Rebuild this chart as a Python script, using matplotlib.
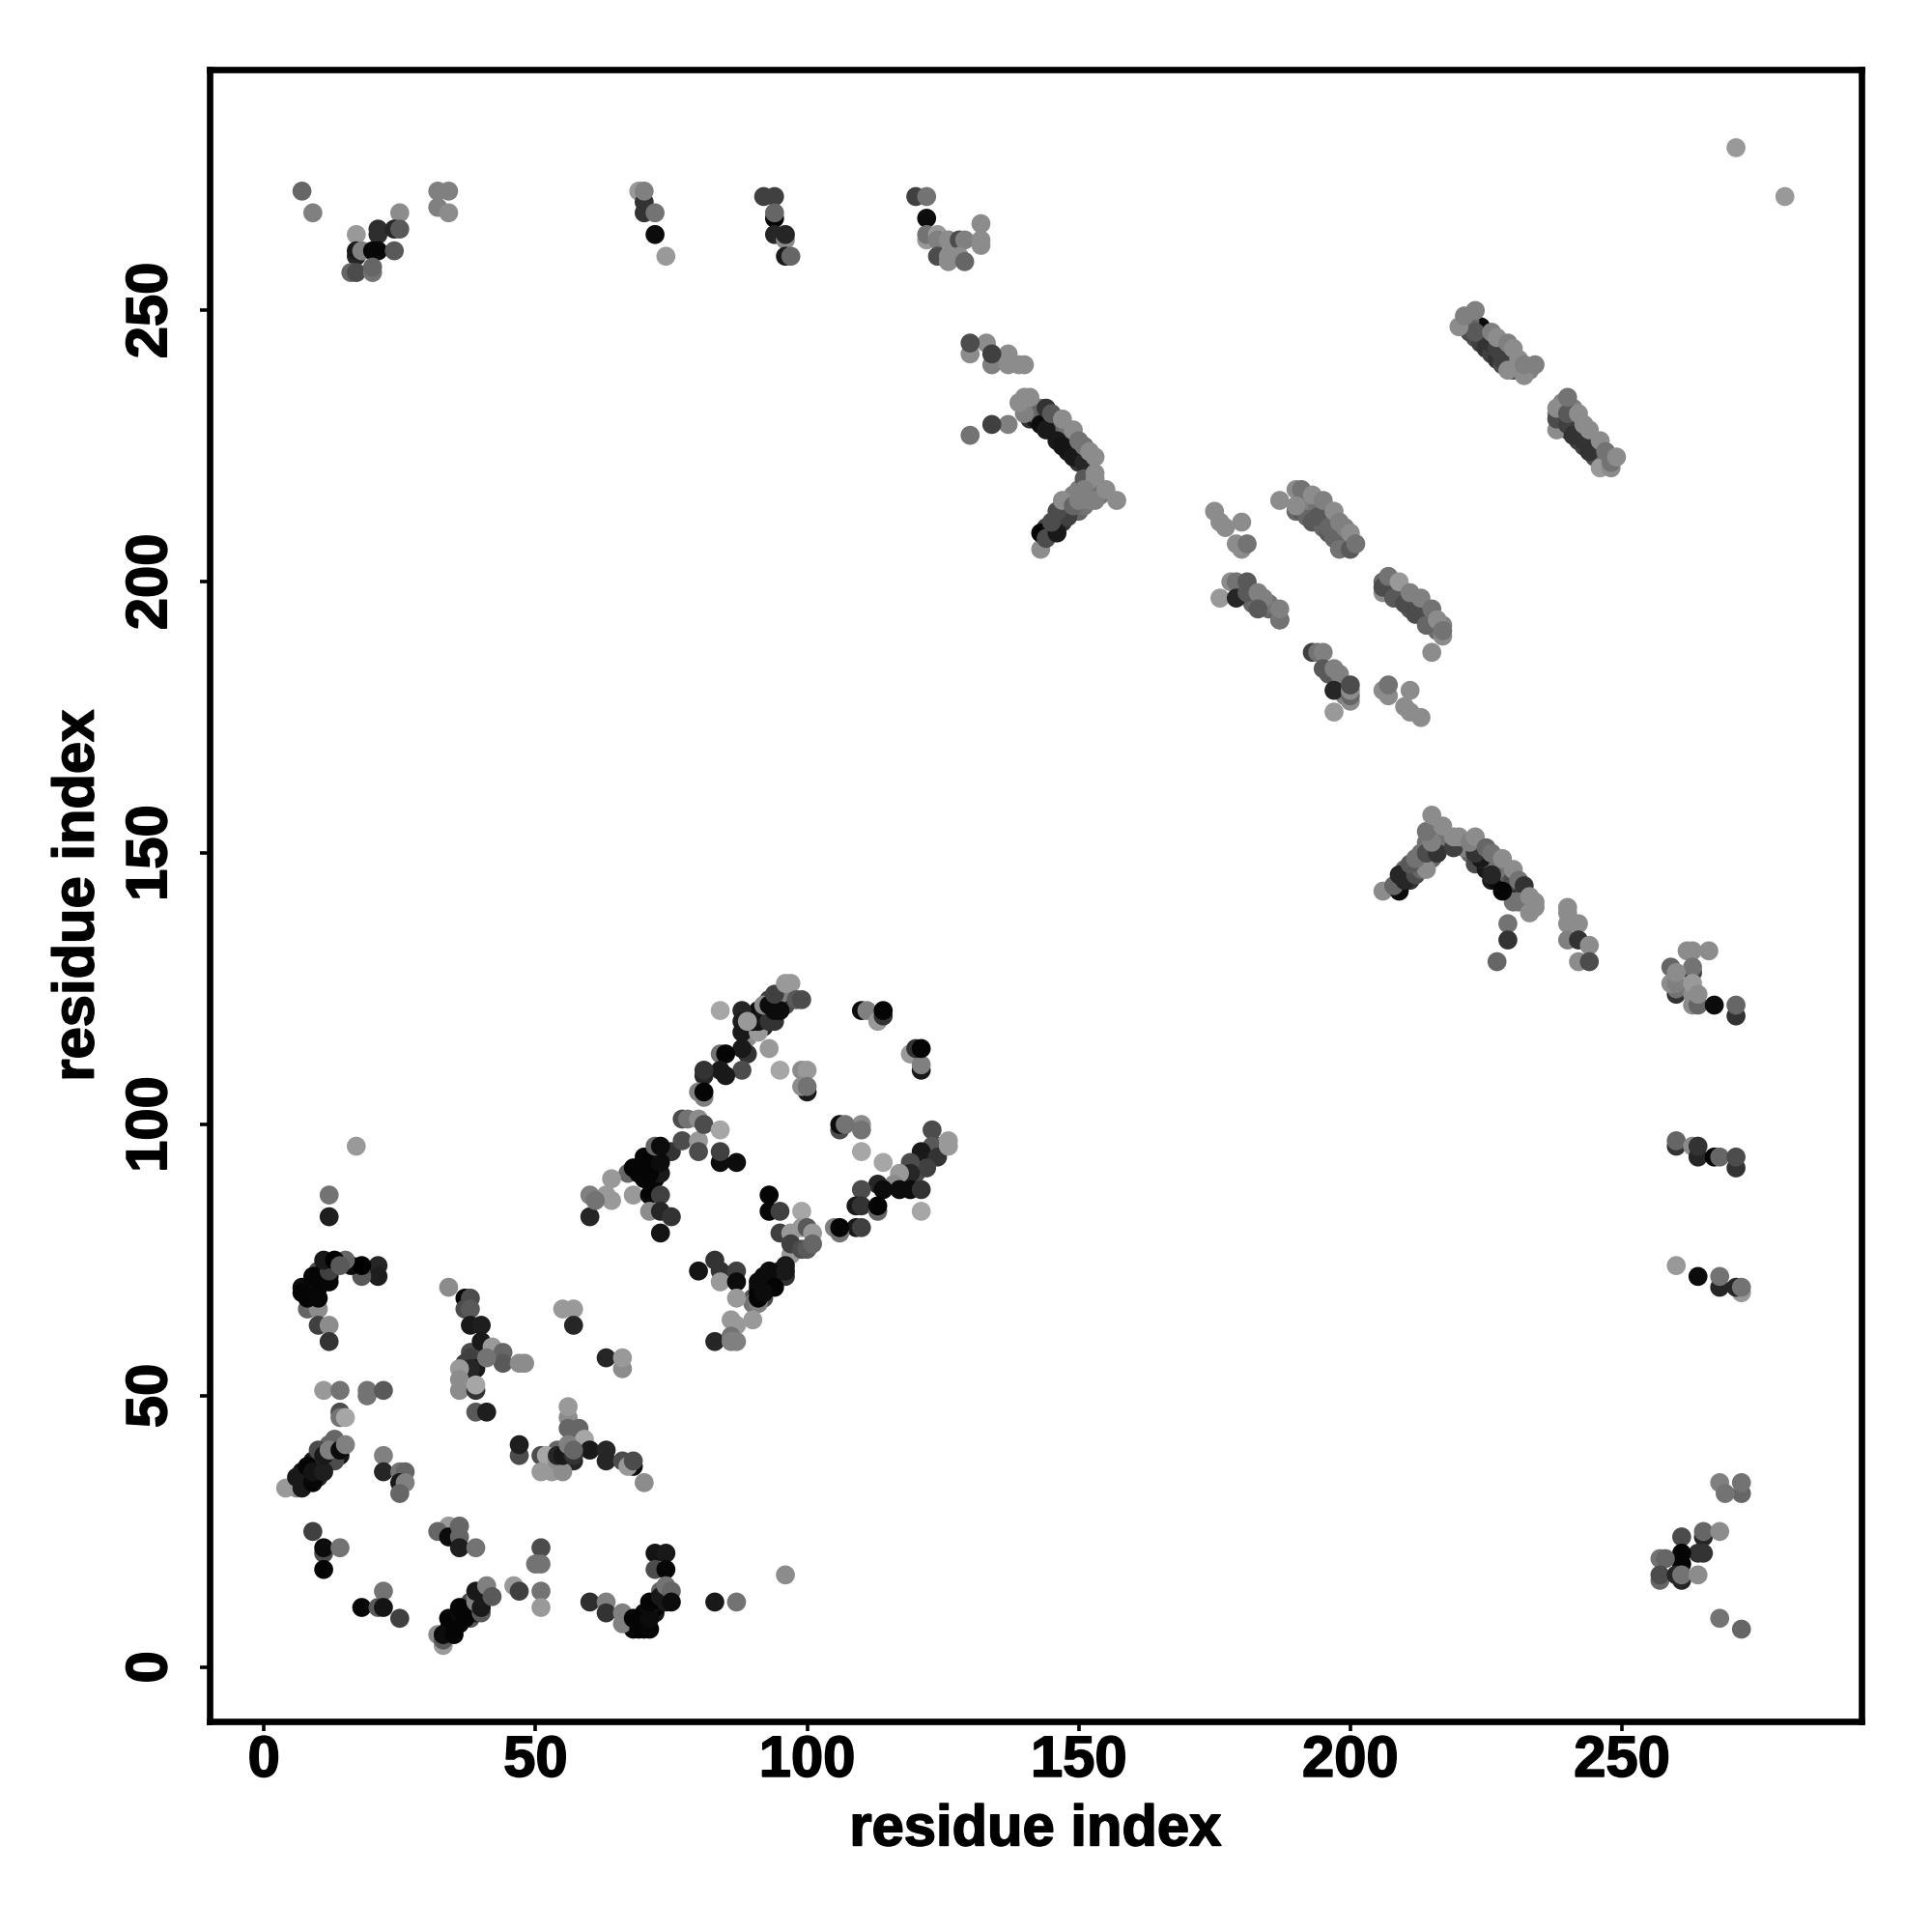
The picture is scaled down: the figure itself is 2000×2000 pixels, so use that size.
import numpy as np
import matplotlib
matplotlib.use("Agg")
import matplotlib.pyplot as plt
import matplotlib.patheffects as pe

# each contact is (residue x, residue y, grey level)
low_left = [
    (17,96,.6),(12,87,.45),(12,83,.12),(21,74,.15),(21,72,.12),(18,72,.35),(16,74,.05),(18,74,.0),(15,75,.4),
    (8,66,.4),(10,66,.55),(10,63,.25),(12,63,.55),(12,60,.2),
    (7,70,.05),(7,69,.02),(8,68,.02),(10,68,.03),(9,72,.02),(12,71,.03),(12,73,.25),(11,75,.1),(13,75,.0),(14,74,.35),
    (11,51,.6),(14,51,.45),(19,51,.45),(19,50,.45),(22,51,.35),(14,47,.3),(14,46,.45),(15,46,.65),
    (6,33,.55),(4,33,.6),(6,35,.1),(7,33,.1),(9,34,.03),(8,37,.02),(9,36,.08),(11,36,.12),(10,40,.3),(11,39,.1),
    (13,42,.4),(12,40,.5),(14,40,.05),(15,41,.5),
    (22,39,.5),(22,36,.15),(25,36,.45),(26,36,.4),(25,34,.1),(26,34,.5),(25,32,.4),
    (9,25,.25),(11,21,.3),(11,22,.05),(14,22,.45),(11,18,.02),(18,11,.03),(22,14,.45),(21,11,.35),(22,11,.08),(25,9,.25),
]
bottom_mid = [
    (33,4,.6),(32,6,.55),(33,5,.35),(33,6,.05),(35,6,.02),(34,9,.02),(36,10,.05),(37,10,.08),(36,11,.02),(37,9,.02),
    (40,10,.35),(39,12,.5),(40,11,.1),(39,14,.1),(41,15,.5),(42,13,.35),
    (46,15,.6),(47,14,.25),(51,14,.45),(51,11,.6),(51,22,.3),(50,19,.45),(51,19,.45),
    (34,26,.6),(32,25,.4),(34,24,.05),(36,26,.4),(36,24,.4),(36,22,.12),(39,22,.45),
    (60,12,.18),(63,12,.5),(63,10,.2),(66,10,.5),(66,8,.5),(68,9,.02),(69,7,.02),(71,7,.03),(71,9,.05),(71,12,.02),(73,13,.1),
    (72,21,.08),(74,21,.1),(72,18,.3),(74,18,.03),(74,15,.45),(75,14,.4),(75,12,.05),(83,12,.1),(87,12,.45),(96,17,.55),
]
mid_left = [
    (34,70,.55),(37,68,.02),(38,68,.3),(37,66,.3),(38,66,.35),(38,63,.1),(40,63,.12),(40,60,.1),(42,59,.6),
    (44,58,.4),(44,56,.35),(47,56,.55),(48,56,.55),(38,57,.25),(39,55,.1),(38,55,.15),(41,57,.45),(36,55,.6),(36,53,.55),
    (36,51,.55),(39,51,.2),(39,52,.65),(39,47,.35),(41,47,.12),
    (56,46,.55),(56,48,.6),(56,44,.4),(58,44,.4),(59,42,.65),(60,40,.1),(63,40,.15),(63,38,.15),(66,38,.3),(68,37,.05),(67,37,.6),(68,38,.3),(70,34,.55),
    (51,39,.3),(52,39,.65),(51,36,.6),(53,36,.6),(55,36,.55),(54,38,.55),(54,39,.15),(55,39,.1),(57,39,.2),(56,41,.5),(57,40,.4),
    (47,39,.3),(47,41,.12),(55,66,.6),(57,66,.6),(57,63,.15),(63,57,.15),(66,55,.55),(66,57,.6),
]
upper_block = [
    (84,121,.65),(88,121,.15),(88,119,.12),(89,116,.55),(88,117,.1),(91,117,.6),(90,119,.05),(91,119,.08),(89,119,.6),(93,119,.2),
    (92,122,.55),(93,122,.05),(94,121,.05),(95,121,.05),(94,124,.25),(96,126,.6),(97,126,.6),(98,123,.35),(99,123,.3),
    (89,113,.2),(88,114,.1),(84,113,.45),(85,113,.02),(93,114,.6),(88,110,.3),(85,109,.1),(84,110,.1),(81,109,.15),(81,110,.2),
    (81,105,.5),(80,106,.5),(81,106,.02),(95,110,.65),(99,110,.55),(100,110,.6),(100,106,.1),(99,107,.55),(100,107,.45),
    (110,121,.05),(111,121,.5),(113,119,.6),(114,120,.2),(114,121,.02),(119,113,.6),(121,110,.1),(121,111,.5),(120,114,.2),(121,114,.02),
    (77,97,.3),(77,101,.3),(78,101,.45),(80,97,.6),(80,101,.55),(81,100,.3),(84,99,.65),(80,95,.3),(84,93,.05),(84,95,.25),(87,93,.05),
    (67,91,.4),(69,91,.03),(68,92,.02),(71,91,.02),(70,94,.02),(73,93,.05),(72,96,.4),(73,96,.05),
    (64,90,.6),(63,87,.6),(64,86,.6),(68,87,.6),(71,87,.02),(73,87,.25),(71,84,.55),(73,84,.15),(75,83,.2),(73,80,.08),
    (60,83,.15),(60,87,.5),(61,86,.45),
]
right_block = [
    (123,99,.3),(125,96,.55),(123,96,.35),(121,95,.1),(124,94,.2),(122,92,.25),(119,93,.3),(119,91,.15),(117,91,.6),(116,89,.55),
    (126,97,.6),(126,96,.6),(113,89,.15),(114,88,.05),(117,88,.05),(119,88,.05),(121,88,.2),(121,84,.65),
    (110,88,.3),(109,85,.1),(110,85,.2),(113,84,.4),(113,85,.02),(109,81,.1),(110,81,.25),(105,81,.5),(106,80,.45),(106,81,.02),
    (110,95,.65),(114,93,.65),(110,100,.55),(110,99,.45),(106,99,.3),(106,100,.05),(107,100,.45),
    (99,84,.65),(93,87,.02),(93,84,.03),(95,84,.25),(95,80,.25),(97,80,.6),(99,81,.6),(100,81,.35),(101,80,.6),
    (97,76,.6),(97,78,.25),(99,77,.3),(100,77,.35),(101,78,.4),(96,74,.1),(93,71,.1),(91,71,.05),(93,73,.05),(96,73,.1),(94,70,.02),
    (90,67,.45),(91,67,.5),(91,68,.02),(92,69,.05),(83,75,.2),(80,73,.08),(84,73,.2),(87,73,.25),(84,71,.6),(87,71,.05),(87,68,.6),
    (90,64,.6),(86,64,.6),(87,63,.6),(83,60,.15),(86,61,.45),(86,60,.5),(87,60,.5),
]
top_row = [
    (7,272,.4),(9,268,.5),(25,268,.55),(17,264,.6),(21,264,.18),(21,265,.18),(24,265,.15),(25,265,.35),
    (17,260,.15),(17,261,.1),(18,261,.5),(20,261,.03),(21,261,.03),(24,261,.35),(16,257,.4),(17,257,.3),(20,257,.45),(20,258,.4),
    (32,272,.5),(34,272,.5),(32,269,.5),(34,268,.55),(69,272,.6),(70,270,.2),(70,272,.5),(70,268,.2),(72,268,.45),(72,264,.05),(74,260,.6),
    (92,271,.25),(94,271,.25),(94,267,.02),(94,268,.4),(94,264,.15),(96,263,.55),(96,264,.15),(96,260,.1),(97,260,.4),
    (120,271,.25),(122,271,.45),(122,267,.05),(122,263,.6),(122,264,.45),(124,264,.6),(124,263,.5),(126,263,.55),(128,263,.3),(129,263,.5),
    (124,260,.3),(126,259,.55),(126,260,.55),(128,260,.55),(129,259,.4),(132,266,.55),(132,262,.55),(132,263,.55),
    (271,280,.6),(280,271,.6),
]
hook_upper = [
    (130,242,.55),(133,244,.55),(130,244,.3),(134,240,.5),(137,240,.55),(137,242,.55),(134,242,.25),(139,240,.55),(140,240,.55),
    (137,229,.5),(134,229,.25),(130,227,.45),
    (143,229,.05),(144,228,.1),(146,226,.1),(147,225,.08),(149,223,.1),(151,222,.15),
    (140,231,.5),(139,233,.55),(140,234,.55),(141,234,.55),(144,232,.2),(145,231,.35),(147,230,.55),(149,228,.55),(150,226,.45),(151,225,.45),
    (152,224,.55),(153,223,.55),(151,219,.35),(153,220,.55),(153,219,.55),
    (143,206,.55),(143,209,.02),(144,208,.3),(146,209,.1),(145,211,.3),(148,212,.25),(146,213,.3),(147,215,.55),(149,214,.4),(150,215,.5),(151,217,.5),
    (154,216,.45),(153,215,.5),(155,217,.55),(157,215,.55),
]
mid_strands = [
    (175,213,.55),(176,211,.55),(180,211,.55),(177,210,.55),(179,207,.55),(180,206,.55),(181,207,.45),
    (194,212,.35),(196,210,.4),(197,208,.4),(198,206,.45),(200,206,.35),
    (187,215,.55),(190,217,.55),(191,217,.45),(190,214,.55),(193,216,.55),(195,215,.5),(197,213,.55),(198,211,.5),(199,210,.5),(200,209,.55),(201,207,.45),
    (178,200,.55),(179,200,.45),(176,197,.6),(179,197,.15),(181,200,.35),(181,198,.35),(183,198,.5),(184,197,.5),(183,195,.35),(187,193,.25),(187,193,.45),(187,195,.5),
    (206,198,.55),(206,199,.3),(208,197,.35),(210,196,.3),(212,194,.3),(214,192,.4),(207,201,.45),(209,200,.6),(211,198,.5),(213,197,.5),(215,195,.45),(216,193,.55),
    (217,190,.55),(217,191,.45),(215,187,.55),
    (193,187,.25),(194,187,.45),(195,187,.5),(195,184,.35),(197,184,.5),(198,183,.5),(197,180,.15),(200,178,.55),(200,179,.4),(200,180,.55),(200,181,.3),(197,176,.6),
    (206,180,.55),(207,179,.55),(207,181,.45),(211,180,.55),(210,177,.55),(211,176,.55),(213,175,.55),
]
top_strands = [
    (225,245,.2),(226,244,.2),(227,243,.25),(228,241,.25),(230,239,.3),(224,247,.05),(222,248,.4),(223,246,.35),
    (220,247,.55),(221,249,.5),(223,250,.5),(226,246,.5),(227,245,.55),(229,244,.5),(230,243,.55),(231,241,.55),(229,239,.55),(232,238,.55),(232,240,.5),(234,240,.5),
    (238,228,.55),(238,230,.3),(240,229,.25),(241,227,.2),(243,226,.2),(244,224,.2),(246,221,.6),(248,221,.55),(248,222,.45),
    (238,232,.55),(240,231,.35),(240,234,.45),(242,231,.55),(243,229,.55),(244,228,.55),(246,226,.55),(247,224,.45),(249,223,.55),
]
hook_lower = [
    (206,143,.55),(209,143,.05),(208,144,.4),(209,146,.15),(210,145,.15),(212,146,.3),(213,147,.4),(214,147,.55),(211,148,.35),(212,149,.45),(214,150,.3),
    (216,150,.2),(215,152,.5),(214,154,.45),(215,157,.55),(217,155,.55),(219,151,.25),(219,153,.55),(220,153,.55),
    (228,143,.02),(226,146,.15),(224,149,.1),(223,150,.2),(222,152,.5),(223,153,.55),(225,151,.4),(226,150,.45),(228,149,.55),(230,147,.55),(231,145,.45),
    (232,144,.2),(231,141,.45),(233,139,.55),(234,140,.55),(234,141,.55),(233,142,.55),
    (229,137,.45),(229,134,.2),(227,130,.4),(240,139,.55),(240,140,.55),(240,137,.55),(242,137,.55),(240,134,.5),(242,134,.2),(244,133,.55),(242,130,.55),(244,130,.3),
]
right_column = [
    (262,132,.55),(263,132,.55),(266,132,.55),(259,129,.4),(263,128,.25),(263,129,.45),(260,124,.2),(260,125,.45),(259,126,.55),(260,126,.5),(260,128,.55),
    (263,122,.55),(263,124,.55),(263,126,.6),(264,122,.4),(264,124,.55),(267,122,.05),(271,120,.2),(271,122,.4),
    (260,96,.2),(260,97,.4),(263,96,.55),(264,94,.15),(264,96,.2),(267,94,.02),(268,94,.4),(271,92,.2),(271,94,.3),
    (260,74,.6),(264,72,.05),(268,70,.15),(268,72,.45),(272,69,.6),(271,70,.15),(272,70,.45),
    (268,34,.5),(272,32,.4),(272,34,.45),(269,32,.45),(261,24,.3),(265,24,.15),(265,25,.4),(268,25,.55),(264,21,.2),(265,21,.2),(261,19,.02),(261,21,.02),
    (257,20,.45),(258,20,.4),(257,16,.4),(257,17,.3),(260,17,.15),(261,16,.15),(261,17,.45),(264,17,.55),(268,9,.45),(272,7,.4),
]

# contacts hidden inside the dense clusters, drawn first
dense_low = [
    (8,69,.03),(8,70,.0),(9,70,.02),(10,70,.02),(11,72,.05),(10,73,.3),(11,73,.05),(12,74,.02),(13,74,.1),(12,72,.05),(9,68,.02),(10,71,.02),
    (7,34,.1),(8,34,.05),(7,36,.08),(8,35,.05),(9,38,.1),(10,38,.1),(10,36,.2),(10,35,.15),(11,38,.2),(12,39,.1),(12,41,.4),(13,39,.3),(13,40,.08),(14,41,.4),(14,39,.1),(13,38,.3),
    (34,7,.05),(35,8,.02),(36,9,.02),(35,7,.1),(34,6,.4),(36,8,.03),(38,11,.02),(37,11,.05),(38,12,.3),(38,9,.35),(39,11,.05),(39,10,.1),(40,13,.15),(40,12,.08),(41,13,.4),(39,13,.5),
    (67,8,.4),(68,7,.02),(70,8,.02),(70,7,.05),(69,9,.02),(70,10,.05),(72,10,.1),(72,11,.02),(72,12,.15),(73,12,.05),(74,12,.1),(73,14,.4),(74,13,.3),(74,14,.45),
    (54,37,.2),(55,38,.2),(56,38,.15),(56,39,.3),(57,38,.15),(55,40,.4),(56,40,.35),(57,41,.5),(58,41,.55),(53,38,.5),(54,40,.4),
    (38,56,.25),(39,56,.2),(39,57,.1),(40,57,.15),(39,58,.2),(40,58,.35),(37,53,.6),(37,56,.25),(38,58,.3),
]
dense_block = [
    (70,92,.03),(71,93,.02),(72,94,.05),(72,92,.1),(73,95,.05),(73,94,.05),(74,95,.1),(75,95,.2),(70,90,.02),(71,90,.03),(72,90,.03),(73,91,.1),
    (90,120,.08),(91,121,.05),(92,120,.1),(92,118,.15),(93,120,.05),(94,119,.2),(95,122,.05),(95,123,.1),(93,123,.25),(97,123,.1),(96,122,.3),(96,124,.15),(95,124,.5),
    (119,90,.05),(120,92,.2),(121,92,.1),(122,93,.05),(122,94,.05),(123,95,.15),(118,90,.3),(119,89,.5),(124,96,.3),(120,91,.3),(118,89,.1),
    (92,72,.02),(92,70,.05),(91,70,.1),(92,71,.03),(93,70,.1),(94,72,.05),(95,72,.2),(96,72,.2),(95,73,.1),(92,68,.3),(90,68,.35),(91,69,.02),
]
dense_strands = [
    (222,246,.3),(223,245,.3),(224,244,.25),(225,243,.2),(226,242,.25),(227,241,.2),(228,240,.3),(229,240,.4),(230,241,.35),(224,246,.4),(225,246,.45),(226,245,.4),(228,243,.4),(229,242,.35),(231,240,.4),(233,239,.5),
    (239,230,.25),(240,228,.3),(241,229,.35),(242,226,.25),(243,225,.25),(244,225,.35),(245,223,.3),(246,222,.3),(247,222,.4),(242,229,.4),(244,226,.4),(245,225,.4),(246,224,.4),(239,233,.5),(241,232,.5),(238,231,.5),
    (141,230,.2),(142,230,.1),(145,228,.15),(146,227,.05),(148,225,.1),(148,224,.1),(150,223,.1),(150,222,.2),(152,222,.3),(145,229,.3),(147,227,.3),(148,227,.3),(149,226,.3),(150,224,.3),(151,224,.4),(146,229,.4),(148,228,.45),(152,221,.45),
    (141,233,.55),(142,232,.5),(143,232,.5),(142,231,.4),
    (144,209,.15),(145,209,.12),(146,210,.15),(147,211,.2),(148,213,.3),(149,213,.35),(150,213,.4),(151,214,.45),(152,216,.5),(152,218,.55),(152,215,.5),(149,216,.5),(150,217,.5),(145,210,.2),(144,210,.25),(147,214,.4),(148,214,.45),
    (209,144,.3),(210,146,.3),(211,146,.2),(212,147,.15),(213,149,.3),(214,148,.4),(215,149,.4),(216,151,.3),(215,153,.4),(211,145,.2),(210,147,.4),(213,150,.45),(212,148,.3),(216,153,.5),(216,152,.45),(215,151,.5),(214,152,.45),
    (222,150,.4),(223,148,.3),(225,147,.1),(226,145,.1),(227,145,.05),(228,144,.05),(229,143,.1),(230,142,.1),(231,142,.2),(224,149,.3),(225,149,.4),(227,148,.35),(228,147,.3),(229,146,.35),(230,145,.3),(232,142,.4),(230,141,.45),(222,151,.5),(221,151,.5),(224,151,.5),(225,150,.45),(227,147,.45),
    (190,213,.4),(191,213,.35),(192,212,.4),(193,211,.35),(195,210,.4),(196,209,.35),(197,209,.4),(198,208,.35),(199,207,.35),(192,215,.5),(194,214,.45),(196,212,.45),(198,210,.4),(199,208,.4),
    (207,198,.3),(208,198,.4),(209,197,.3),(210,197,.35),(211,195,.35),(213,195,.3),(214,193,.35),(215,193,.3),(216,191,.4),(209,199,.45),(211,197,.45),(213,196,.45),(215,192,.45),(217,192,.5),(206,200,.4),
    (182,198,.35),(182,196,.4),(184,196,.4),(185,195,.4),(180,199,.5),(185,196,.45),(183,196,.45),(196,183,.35),(198,182,.35),(199,181,.4),(199,180,.4),(199,179,.5),
]

groups = [dense_low, dense_block, dense_strands, low_left, bottom_mid, mid_left, upper_block, right_block,
          top_row, hook_upper, mid_strands, top_strands, hook_lower, right_column]
contacts = np.array([p for g in groups for p in g])

plt.rcParams['font.family'] = ['Liberation Sans', 'DejaVu Sans']
plt.rcParams['font.weight'] = 'bold'
heavy = [pe.withStroke(linewidth=0.6, foreground='black')]

fig = plt.figure(figsize=(10, 10), dpi=200)
ax = fig.add_axes([0.1085, 0.109, 0.855, 0.855])
ax.scatter(contacts[:, 0], contacts[:, 1], c=contacts[:, 2], cmap='gray', vmin=0, vmax=1,
           s=50, linewidths=0, zorder=2)
ax.set_xlim(-10, 294.1)
ax.set_ylim(-10, 294.4)
ticks = [0, 50, 100, 150, 200, 250]
ax.set_xticks(ticks)
ax.set_yticks(ticks)
ax.tick_params(length=3.5, width=1.3, labelsize=21.5)
ax.tick_params(axis='x', pad=1.5)
ax.tick_params(axis='y', pad=8.3)
for lab in ax.get_xticklabels():
    lab.set_path_effects(heavy)
for lab in ax.get_yticklabels():
    lab.set_rotation(90)
    lab.set_va('center')
    lab.set_path_effects(heavy)
for side in ax.spines.values():
    side.set_linewidth(2.4)
ax.set_xlabel('residue index', fontsize=21.5, fontweight='bold', va='center', path_effects=heavy)
ax.set_ylabel('residue index', fontsize=21.5, fontweight='bold', va='center', path_effects=heavy)
ax.xaxis.set_label_coords(0.5, -0.066)
ax.yaxis.set_label_coords(-0.0795, 0.5)
fig.savefig('out.png', dpi=200)
